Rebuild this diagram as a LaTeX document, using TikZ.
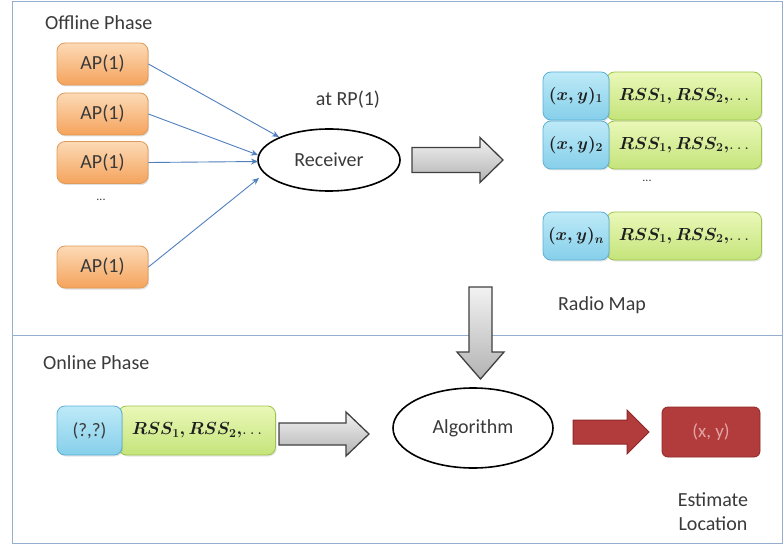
\documentclass[tikz,border=0pt]{standalone}
\usepackage{fix-cm}
\usepackage{amsmath}
\usepackage{fontspec}
\setmainfont{Carlito}
\usetikzlibrary{shapes.geometric,arrows.meta,shadows}
\definecolor{aptop}{HTML}{FCDAB6}
\definecolor{apbot}{HTML}{F5A35C}
\definecolor{apborder}{HTML}{E09A58}
\definecolor{bluetop}{HTML}{BDEAF8}
\definecolor{bluebot}{HTML}{86CFEA}
\definecolor{blueborder}{HTML}{5AAFD4}
\definecolor{greentop}{HTML}{EAF8B8}
\definecolor{greenbot}{HTML}{C4E47A}
\definecolor{greenborder}{HTML}{9EC44E}
\definecolor{framecol}{HTML}{95AECF}
\definecolor{txt}{HTML}{3A3A3A}
\definecolor{mathtxt}{HTML}{1E1E1E}
\definecolor{lineblue}{HTML}{4F7FBF}
\definecolor{redfill}{HTML}{B23B3B}
\definecolor{redborder}{HTML}{8E2828}
\definecolor{redtext}{HTML}{E3A3A3}
\newcommand{\rssrow}{$\boldsymbol{RSS_1,RSS_2,}\!\ldots$}
\tikzset{
  base/.style={font=\fontsize{20}{24}\selectfont, text=txt},
  mathf/.style={font=\fontsize{17.5}{20}\selectfont, text=mathtxt},
  apbox/.style={base, rectangle, rounded corners=8pt, minimum width=91pt, minimum height=42pt,
    draw=apborder, line width=0.8pt, top color=aptop, bottom color=apbot,
    drop shadow={shadow xshift=1.2pt, shadow yshift=-1.5pt, opacity=0.25}},
  ellnode/.style={base, ellipse, draw=black, line width=1.6pt, inner sep=0pt},
  bluebox/.style={mathf, rectangle, rounded corners=8pt, minimum width=66pt,
    draw=blueborder, line width=0.8pt, top color=bluetop, bottom color=bluebot, inner sep=0pt,
    drop shadow={shadow xshift=1.2pt, shadow yshift=-1.5pt, opacity=0.2}},
  greenbox/.style={mathf, rectangle, rounded corners=8pt, minimum width=155pt,
    draw=greenborder, line width=0.8pt, top color=greentop, bottom color=greenbot, inner sep=0pt,
    drop shadow={shadow xshift=1.2pt, shadow yshift=-1.5pt, opacity=0.2}},
  feed/.style={draw=lineblue, line width=0.9pt, -{Stealth[length=7pt,width=6pt]}},
  grayarrow/.style={draw=black!75, line width=1.3pt, top color=gray!10, bottom color=gray!60, line join=miter},
  redarrow/.style={draw=redborder, line width=1pt, fill=redfill},
  lbl/.style={base, inner sep=0pt}
}
\begin{document}
\begin{tikzpicture}[x=1pt,y=-1pt]
\useasboundingbox (0,0) rectangle (783,545);
% frame
\draw[framecol, line width=1pt] (12,2) rectangle (782,543);
\draw[framecol, line width=1pt] (12,335) -- (782,335);

% offline phase
\node[lbl, anchor=west] (offl) at (45,23) {Offline Phase};
\node[apbox] (ap1) at (102.5,64) {AP(1)};
\node[apbox] (ap2) at (102.5,114) {AP(1)};
\node[apbox] (ap3) at (102.5,162.5) {AP(1)};
\node[lbl] (apdots) at (101,200) {\fontsize{12}{14}\selectfont ...};
\node[apbox] (ap5) at (102.5,267) {AP(1)};

\node[ellnode, minimum width=142pt, minimum height=62pt] (rec) at (329,160) {Receiver};
\node[lbl] (atrp) at (348,100) {at RP(1)};

\coordinate (r1) at (279,137);
\coordinate (r2) at (258,155);
\coordinate (r3) at (258,161.5);
\coordinate (r5) at (259,178);
\draw[feed] (ap1.east) -- (r1);
\draw[feed] (ap2.east) -- (r2);
\draw[feed] (ap3.east) -- (r3);
\draw[feed] (ap5.east) -- (r5);

% gray arrow receiver -> radio map
\path[grayarrow] (412,147.5) -- (480,147.5) -- (480,137.5) -- (503,160) -- (480,182.5) -- (480,172.5) -- (412,172.5) -- cycle;

% radio map
\node[greenbox, minimum height=48pt] (g1) at (684,96) {\rssrow};
\node[bluebox, minimum height=48pt] (b1) at (576,96) {$\boldsymbol{(x,y)_1}$};
\node[greenbox, minimum height=48pt] (g2) at (684,145) {\rssrow};
\node[bluebox, minimum height=48pt] (b2) at (576,145) {$\boldsymbol{(x,y)_2}$};
\node[lbl] (rmdots) at (647,181) {\fontsize{12}{14}\selectfont ...};
\node[greenbox, minimum height=48pt] (gn) at (684,236) {\rssrow};
\node[bluebox, minimum height=48pt] (bn) at (576,236) {$\boldsymbol{(x,y)_n}$};
\node[lbl] (rmap) at (602,305) {Radio Map};

% vertical gray arrow
\path[grayarrow] (469,287) -- (492,287) -- (492,352) -- (504,352) -- (480.5,379) -- (457,352) -- (469,352) -- cycle;

% online phase
\node[lbl, anchor=west] (onl) at (43,363) {Online Phase};
\node[greenbox, minimum width=157pt, minimum height=49pt] (og) at (197,430.5) {\rssrow};
\node[bluebox, minimum width=65pt, minimum height=49pt, font=\fontsize{19}{22}\selectfont, text=txt] (ob) at (89.5,430.5) {(?,?)};
\path[grayarrow] (279,423) -- (346,423) -- (346,412) -- (369,434) -- (346,456) -- (346,445) -- (279,445) -- cycle;

\node[ellnode, minimum width=160pt, minimum height=80pt] (alg) at (473,428) {Algorithm};

\path[redarrow] (573,420) -- (627,420) -- (627,410) -- (649,432) -- (627,454) -- (627,444) -- (573,444) -- cycle;

\node[rectangle, rounded corners=6pt, minimum width=98pt, minimum height=50pt, fill=redfill, draw=redborder, line width=0.8pt, text=redtext, font=\fontsize{19}{22}\selectfont] (est) at (711,432) {(x, y)};
\node[lbl, align=center] (estl) at (713,512) {Estimate\\Location};
\end{tikzpicture}
\end{document}
